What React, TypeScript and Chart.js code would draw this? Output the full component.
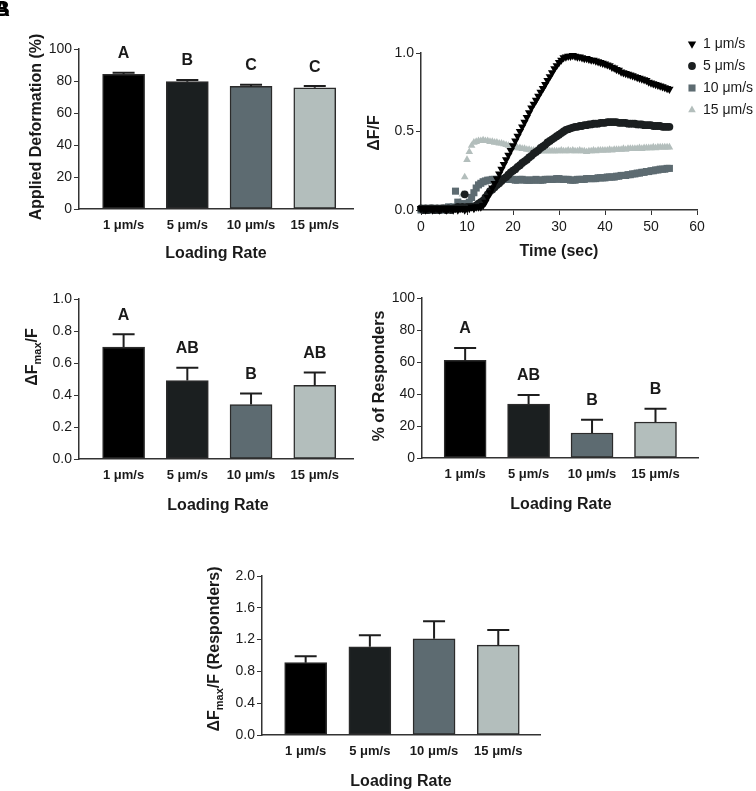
import React, { useEffect, useRef } from "react";
import { Chart, registerables } from "chart.js";
Chart.register(...registerables);

const PAGE_W = 756;
const PAGE_H = 791;
const FONT = "'Liberation Sans', Arial, Helvetica, sans-serif";
const INK = "#1a1a1a";
const AXIS = "#333333";
Chart.defaults.font.family = FONT;

// ---------- shared categories ----------
const rateLabels = ["1 μm/s", "5 μm/s", "10 μm/s", "15 μm/s"];
const rateColors = ["#000000", "#1b1f20", "#5d6b71", "#b3bebc"];

// ---------- panel A: applied deformation ----------
const deformMean = [84.2, 79.6, 76.6, 75.8];
const deformSem = [1.0, 1.1, 1.0, 1.0];
const deformLetters = ["A", "B", "C", "C"];
const deformTicks = { max: 100, step: 20, dec: 0 };

// ---------- panel C: dFmax/F ----------
const dfmaxMean = [0.7, 0.49, 0.34, 0.46];
const dfmaxSem = [0.08, 0.08, 0.07, 0.08];
const dfmaxLetters = ["A", "AB", "B", "AB"];
const dfmaxTicks = { max: 1.0, step: 0.2, dec: 1 };

// ---------- panel D: % responders ----------
const respMean = [61, 33.7, 15.6, 22.5];
const respSem = [7.7, 5.7, 8.3, 8.3];
const respLetters = ["A", "AB", "B", "B"];
const respTicks = { max: 100, step: 20, dec: 0 };

// ---------- panel E: dFmax/F responders ----------
const dfrMean = [0.91, 1.11, 1.21, 1.13];
const dfrSem = [0.08, 0.145, 0.22, 0.19];
const dfrTicks = { max: 2.0, step: 0.4, dec: 1 };

// ---------- panel B: time courses ----------
const timeSec = [
  0, 0.5, 1, 1.5, 2, 2.5, 3, 3.5, 4, 4.5,
  5, 5.5, 6, 6.5, 7, 7.5, 8, 8.5, 9, 9.5,
  10, 10.5, 11, 11.5, 12, 12.5, 13, 13.5, 14, 14.5,
  15, 15.5, 16, 16.5, 17, 17.5, 18, 18.5, 19, 19.5,
  20, 20.5, 21, 21.5, 22, 22.5, 23, 23.5, 24, 24.5,
  25, 25.5, 26, 26.5, 27, 27.5, 28, 28.5, 29, 29.5,
  30, 30.5, 31, 31.5, 32, 32.5, 33, 33.5, 34, 34.5,
  35, 35.5, 36, 36.5, 37, 37.5, 38, 38.5, 39, 39.5,
  40, 40.5, 41, 41.5, 42, 42.5, 43, 43.5, 44, 44.5,
  45, 45.5, 46, 46.5, 47, 47.5, 48, 48.5, 49, 49.5,
  50, 50.5, 51, 51.5, 52, 52.5, 53, 53.5, 54,
];
const trace1 = [
  0.01, 0.01, 0.0, 0.01, 0.01, 0.0, 0.01, 0.01, 0.0, 0.01,
  0.01, 0.0, 0.01, 0.01, 0.0, 0.01, 0.0, 0.01, 0.01, 0.0,
  0.01, 0.01, 0.02, 0.01, 0.02, 0.02, 0.02, 0.03, 0.05, 0.08,
  0.11, 0.14, 0.17, 0.2, 0.23, 0.26, 0.29, 0.32, 0.35, 0.38,
  0.41, 0.44, 0.47, 0.5, 0.53, 0.56, 0.59, 0.62, 0.65, 0.675,
  0.7, 0.725, 0.75, 0.775, 0.8, 0.825, 0.85, 0.875, 0.9, 0.92,
  0.94, 0.955, 0.97, 0.975, 0.98, 0.98, 0.985, 0.98, 0.975, 0.975,
  0.97, 0.965, 0.965, 0.96, 0.955, 0.955, 0.95, 0.945, 0.94, 0.935,
  0.93, 0.925, 0.92, 0.91, 0.905, 0.895, 0.89, 0.88, 0.875, 0.87,
  0.865, 0.86, 0.855, 0.85, 0.845, 0.84, 0.835, 0.83, 0.825, 0.815,
  0.81, 0.805, 0.8, 0.795, 0.79, 0.785, 0.78, 0.775, 0.77,
];
const trace5 = [
  0.01, 0.0, 0.01, 0.0, 0.01, 0.01, 0.0, 0.01, 0.0, 0.01,
  0.01, 0.0, 0.01, 0.0, 0.01, 0.01, 0.02, 0.01, 0.02, 0.1,
  0.02, 0.02, 0.02, 0.02, 0.03, 0.04, 0.05, 0.06, 0.08, 0.1,
  0.12, 0.13, 0.145, 0.16, 0.17, 0.185, 0.2, 0.21, 0.225, 0.24,
  0.25, 0.26, 0.275, 0.285, 0.3, 0.31, 0.32, 0.335, 0.345, 0.36,
  0.37, 0.38, 0.395, 0.405, 0.415, 0.43, 0.44, 0.45, 0.46, 0.47,
  0.48, 0.49, 0.5, 0.51, 0.515, 0.52, 0.525, 0.53, 0.53, 0.535,
  0.535, 0.54, 0.54, 0.545, 0.545, 0.55, 0.55, 0.55, 0.555, 0.555,
  0.555, 0.56, 0.56, 0.56, 0.56, 0.56, 0.555, 0.555, 0.555, 0.555,
  0.55, 0.55, 0.55, 0.55, 0.545, 0.545, 0.545, 0.54, 0.54, 0.54,
  0.54, 0.535, 0.535, 0.535, 0.535, 0.53, 0.53, 0.53, 0.53,
];
const trace10 = [
  0.0, 0.01, 0.0, 0.0, 0.01, 0.0, 0.01, 0.0, 0.0, 0.01,
  0.0, 0.01, 0.02, 0.01, 0.02, 0.12, 0.05, 0.04, 0.03, 0.04,
  0.04, 0.05, 0.08, 0.11, 0.14, 0.16, 0.17, 0.18, 0.185, 0.19,
  0.19, 0.195, 0.195, 0.195, 0.195, 0.195, 0.195, 0.195, 0.195, 0.195,
  0.195, 0.19, 0.19, 0.195, 0.195, 0.19, 0.19, 0.19, 0.19, 0.19,
  0.195, 0.19, 0.19, 0.19, 0.195, 0.195, 0.195, 0.195, 0.195, 0.2,
  0.2, 0.195, 0.195, 0.195, 0.195, 0.19, 0.19, 0.19, 0.195, 0.195,
  0.195, 0.195, 0.2, 0.2, 0.2, 0.2, 0.2, 0.205, 0.205, 0.205,
  0.205, 0.21, 0.21, 0.21, 0.21, 0.215, 0.215, 0.22, 0.22, 0.22,
  0.225, 0.225, 0.23, 0.23, 0.235, 0.235, 0.24, 0.24, 0.245, 0.245,
  0.25, 0.25, 0.255, 0.255, 0.26, 0.26, 0.26, 0.265, 0.265,
];
const trace15 = [
  0.0, 0.01, 0.0, 0.01, 0.0, 0.0, 0.01, 0.0, 0.01, 0.0,
  0.01, 0.01, 0.0, 0.01, 0.01, 0.02, 0.03, 0.05, 0.1, 0.21,
  0.32, 0.37, 0.41, 0.43, 0.435, 0.44, 0.44, 0.445, 0.44, 0.44,
  0.435, 0.435, 0.43, 0.43, 0.425, 0.425, 0.42, 0.415, 0.41, 0.405,
  0.4, 0.4, 0.395, 0.395, 0.39, 0.39, 0.385, 0.385, 0.38, 0.38,
  0.38, 0.38, 0.375, 0.375, 0.375, 0.375, 0.375, 0.375, 0.375, 0.375,
  0.375, 0.38, 0.375, 0.375, 0.38, 0.375, 0.38, 0.375, 0.375, 0.38,
  0.375, 0.375, 0.37, 0.375, 0.375, 0.38, 0.375, 0.38, 0.38, 0.38,
  0.38, 0.38, 0.385, 0.38, 0.385, 0.385, 0.385, 0.385, 0.39, 0.385,
  0.39, 0.39, 0.39, 0.39, 0.39, 0.395, 0.39, 0.395, 0.395, 0.395,
  0.395, 0.4, 0.395, 0.4, 0.4, 0.4, 0.4, 0.4, 0.4,
];
const traceSeries = [trace1, trace5, trace10, trace15];
const traceStyles = [
  { style: "triangle", rot: 180, r: 4.8 },
  { style: "circle", rot: 0, r: 3.9 },
  { style: "rect", rot: 0, r: 5.0 },
  { style: "triangle", rot: 0, r: 4.4 },
];

// ---------- helpers ----------
type Seg = { t: string; sub?: boolean };
type TitleSpec = { segs: Seg[]; x: number; y: number; vertical?: boolean; size?: number };

function drawRich(ctx: CanvasRenderingContext2D, spec: TitleSpec) {
  const size = spec.size ?? 16;
  const mainFont = `bold ${size}px ${FONT}`;
  const subFont = `bold ${Math.round(size * 0.7)}px ${FONT}`;
  ctx.save();
  ctx.translate(spec.x, spec.y);
  if (spec.vertical) ctx.rotate(-Math.PI / 2);
  const widths = spec.segs.map((s) => {
    ctx.font = s.sub ? subFont : mainFont;
    return ctx.measureText(s.t).width;
  });
  const total = widths.reduce((a, b) => a + b, 0);
  let x = -total / 2;
  ctx.textAlign = "left";
  ctx.textBaseline = "middle";
  ctx.fillStyle = INK;
  spec.segs.forEach((s, i) => {
    ctx.font = s.sub ? subFont : mainFont;
    ctx.fillText(s.t, x, s.sub ? size * 0.32 : 0);
    x += widths[i];
  });
  ctx.restore();
}

function titlesPlugin(titles: TitleSpec[]) {
  return {
    id: "panelTitles",
    afterDraw(chart: any) {
      titles.forEach((t) => drawRich(chart.ctx, t));
    },
  };
}

function errorPlugin(means: number[], sems: number[], letters?: string[]) {
  return {
    id: "errorBars",
    afterDatasetsDraw(chart: any) {
      const ctx = chart.ctx as CanvasRenderingContext2D;
      const xs = chart.scales.x;
      const ys = chart.scales.y;
      ctx.save();
      means.forEach((m, i) => {
        const cx = xs.getPixelForValue(i + 1);
        const yb = ys.getPixelForValue(m);
        const yt = ys.getPixelForValue(m + sems[i]);
        ctx.strokeStyle = "#1e1e1e";
        ctx.lineWidth = 2;
        ctx.beginPath();
        ctx.moveTo(cx, yb);
        ctx.lineTo(cx, yt);
        ctx.moveTo(cx - 11, yt);
        ctx.lineTo(cx + 11, yt);
        ctx.stroke();
        if (letters) {
          ctx.font = `bold 16px ${FONT}`;
          ctx.textAlign = "center";
          ctx.textBaseline = "middle";
          ctx.fillStyle = INK;
          ctx.fillText(letters[i], cx, yt - 19);
        }
      });
      ctx.restore();
    },
  };
}

type Area = { x0: number; x1: number; y0: number; y1: number };

function barConfig(p: {
  means: number[];
  sems: number[];
  letters?: string[];
  ticks: { max: number; step: number; dec: number };
  area: Area;
  xMin: number;
  xMax: number;
  titles: TitleSpec[];
}) {
  const { x0, x1, y0, y1 } = p.area;
  return {
    type: "bar",
    data: {
      datasets: [
        {
          data: p.means.map((v, i) => ({ x: i + 1, y: v })),
          backgroundColor: rateColors,
          borderColor: "#2b2b2b",
          borderWidth: 1.5,
          borderSkipped: false,
          barThickness: 42,
        },
      ],
    },
    options: {
      responsive: false,
      maintainAspectRatio: false,
      animation: false,
      devicePixelRatio: 1,
      events: [],
      layout: { padding: { left: 0, top: y0, right: PAGE_W - x1, bottom: 0 } },
      plugins: { legend: { display: false }, tooltip: { enabled: false } },
      scales: {
        x: {
          type: "linear",
          min: p.xMin,
          max: p.xMax,
          offset: false,
          afterBuildTicks: (s: any) => {
            s.ticks = [1, 2, 3, 4].map((v) => ({ value: v }));
          },
          afterFit: (s: any) => {
            s.height = PAGE_H - y1;
          },
          grid: { display: true, offset: false, drawOnChartArea: false, drawTicks: false },
          border: { display: true, color: AXIS, width: 1.5 },
          ticks: {
            autoSkip: false,
            maxRotation: 0,
            padding: 9,
            color: INK,
            font: { family: FONT, size: 13, weight: "bold" },
            callback: (v: any) => rateLabels[Math.round(Number(v)) - 1] ?? "",
          },
        },
        y: {
          type: "linear",
          min: 0,
          max: p.ticks.max,
          afterFit: (s: any) => {
            s.width = x0;
          },
          grid: { drawOnChartArea: false, drawTicks: true, tickLength: 5, color: AXIS, lineWidth: 1 },
          border: { display: true, color: AXIS, width: 1.5 },
          ticks: {
            stepSize: p.ticks.step,
            padding: 2,
            color: INK,
            font: { family: FONT, size: 14 },
            callback: (v: any) => Number(v).toFixed(p.ticks.dec),
          },
        },
      },
    },
    plugins: [errorPlugin(p.means, p.sems, p.letters), titlesPlugin(p.titles)],
  };
}

function legendPlugin(px: number, tx: number, rows: number[]) {
  return {
    id: "traceLegend",
    afterDraw(chart: any) {
      const ctx = chart.ctx as CanvasRenderingContext2D;
      ctx.save();
      chart.data.datasets.forEach((ds: any, i: number) => {
        const y = rows[i];
        const st = traceStyles[i];
        ctx.fillStyle = rateColors[i];
        ctx.beginPath();
        if (st.style === "circle") {
          ctx.arc(px, y, st.r, 0, Math.PI * 2);
        } else if (st.style === "rect") {
          const h = st.r * Math.SQRT1_2;
          ctx.rect(px - h, y - h, 2 * h, 2 * h);
        } else {
          const r = st.r;
          const dir = st.rot === 180 ? -1 : 1;
          ctx.moveTo(px, y - dir * r);
          ctx.lineTo(px + r * 0.866, y + dir * r * 0.5);
          ctx.lineTo(px - r * 0.866, y + dir * r * 0.5);
          ctx.closePath();
        }
        ctx.fill();
        ctx.fillStyle = INK;
        ctx.font = `14px ${FONT}`;
        ctx.textAlign = "left";
        ctx.textBaseline = "middle";
        ctx.fillText(ds.label, tx, y);
      });
      ctx.restore();
    },
  };
}

function traceConfig() {
  const area = { x0: 421, x1: 697, y0: 53, y1: 210 };
  return {
    type: "scatter",
    data: {
      datasets: traceSeries.map((vals, i) => ({
        label: rateLabels[i],
        data: timeSec.map((t, j) => ({ x: t, y: vals[j] })),
        showLine: false,
        clip: false,
        pointStyle: traceStyles[i].style,
        pointRotation: traceStyles[i].rot,
        pointRadius: traceStyles[i].r,
        pointBackgroundColor: rateColors[i],
        pointBorderColor: rateColors[i],
        pointBorderWidth: 0,
      })),
    },
    options: {
      responsive: false,
      maintainAspectRatio: false,
      animation: false,
      devicePixelRatio: 1,
      events: [],
      layout: { padding: { left: 0, top: area.y0, right: PAGE_W - area.x1, bottom: 0 } },
      plugins: { legend: { display: false }, tooltip: { enabled: false } },
      scales: {
        x: {
          type: "linear",
          min: 0,
          max: 60,
          afterFit: (s: any) => {
            s.height = PAGE_H - area.y1;
          },
          grid: { drawOnChartArea: false, drawTicks: true, tickLength: 5, color: AXIS, lineWidth: 1 },
          border: { display: true, color: AXIS, width: 1.5 },
          ticks: { stepSize: 10, padding: 4, color: INK, maxRotation: 0, font: { family: FONT, size: 14 } },
        },
        y: {
          type: "linear",
          min: 0,
          max: 1,
          afterFit: (s: any) => {
            s.width = area.x0;
          },
          grid: { drawOnChartArea: false, drawTicks: true, tickLength: 5, color: AXIS, lineWidth: 1 },
          border: { display: true, color: AXIS, width: 1.5 },
          ticks: {
            stepSize: 0.5,
            padding: 2,
            color: INK,
            font: { family: FONT, size: 14 },
            callback: (v: any) => Number(v).toFixed(1),
          },
        },
      },
    },
    plugins: [
      legendPlugin(692, 703, [44, 66, 88, 110]),
      titlesPlugin([
        { segs: [{ t: "ΔF/F" }], x: 375, y: 133, vertical: true },
        { segs: [{ t: "Time (sec)" }], x: 559, y: 252 },
      ]),
    ],
  };
}

function ChartLayer({ make }: { make: () => any }) {
  const ref = useRef<HTMLCanvasElement | null>(null);
  useEffect(() => {
    if (!ref.current) return;
    const chart = new Chart(ref.current, make());
    return () => chart.destroy();
  }, []);
  return (
    <canvas
      ref={ref}
      width={PAGE_W}
      height={PAGE_H}
      style={{ position: "absolute", left: 0, top: 0, width: PAGE_W, height: PAGE_H }}
    />
  );
}

const makeA = () =>
  barConfig({
    means: deformMean,
    sems: deformSem,
    letters: deformLetters,
    ticks: deformTicks,
    area: { x0: 79, x1: 353, y0: 49, y1: 209 },
    xMin: 0.3,
    xMax: 4.6,
    titles: [
      { segs: [{ t: "Applied Deformation (%)" }], x: 37, y: 127, vertical: true },
      { segs: [{ t: "Loading Rate" }], x: 216, y: 254 },
    ],
  });

const makeC = () =>
  barConfig({
    means: dfmaxMean,
    sems: dfmaxSem,
    letters: dfmaxLetters,
    ticks: dfmaxTicks,
    area: { x0: 79, x1: 353, y0: 299, y1: 459 },
    xMin: 0.3,
    xMax: 4.6,
    titles: [
      { segs: [{ t: "ΔF" }, { t: "max", sub: true }, { t: "/F" }], x: 33, y: 357, vertical: true },
      { segs: [{ t: "Loading Rate" }], x: 218, y: 506 },
    ],
  });

const makeD = () =>
  barConfig({
    means: respMean,
    sems: respSem,
    letters: respLetters,
    ticks: respTicks,
    area: { x0: 422, x1: 698, y0: 298, y1: 458 },
    xMin: 0.32,
    xMax: 4.67,
    titles: [
      { segs: [{ t: "% of Responders" }], x: 380, y: 376, vertical: true },
      { segs: [{ t: "Loading Rate" }], x: 561, y: 505 },
    ],
  });

const makeE = () =>
  barConfig({
    means: dfrMean,
    sems: dfrSem,
    ticks: dfrTicks,
    area: { x0: 262, x1: 540, y0: 576, y1: 735 },
    xMin: 0.32,
    xMax: 4.65,
    titles: [
      {
        segs: [{ t: "ΔF" }, { t: "max", sub: true }, { t: "/F (Responders)" }],
        x: 215,
        y: 649,
        vertical: true,
      },
      { segs: [{ t: "Loading Rate" }], x: 401, y: 782 },
    ],
  });

export default function App() {
  const letterStyle: React.CSSProperties = {
    position: "absolute",
    left: -6,
    top: -2,
    fontFamily: FONT,
    fontWeight: "bold",
    fontSize: 22,
    lineHeight: "22px",
    color: "#000",
  };
  return (
    <div
      style={{
        position: "absolute",
        left: 0,
        top: 0,
        width: PAGE_W,
        height: PAGE_H,
        background: "#ffffff",
        overflow: "hidden",
      }}
    >
      <ChartLayer make={makeA} />
      <ChartLayer make={traceConfig} />
      <ChartLayer make={makeC} />
      <ChartLayer make={makeD} />
      <ChartLayer make={makeE} />
      <span style={letterStyle}>A</span>
      <span style={letterStyle}>B</span>
    </div>
  );
}
